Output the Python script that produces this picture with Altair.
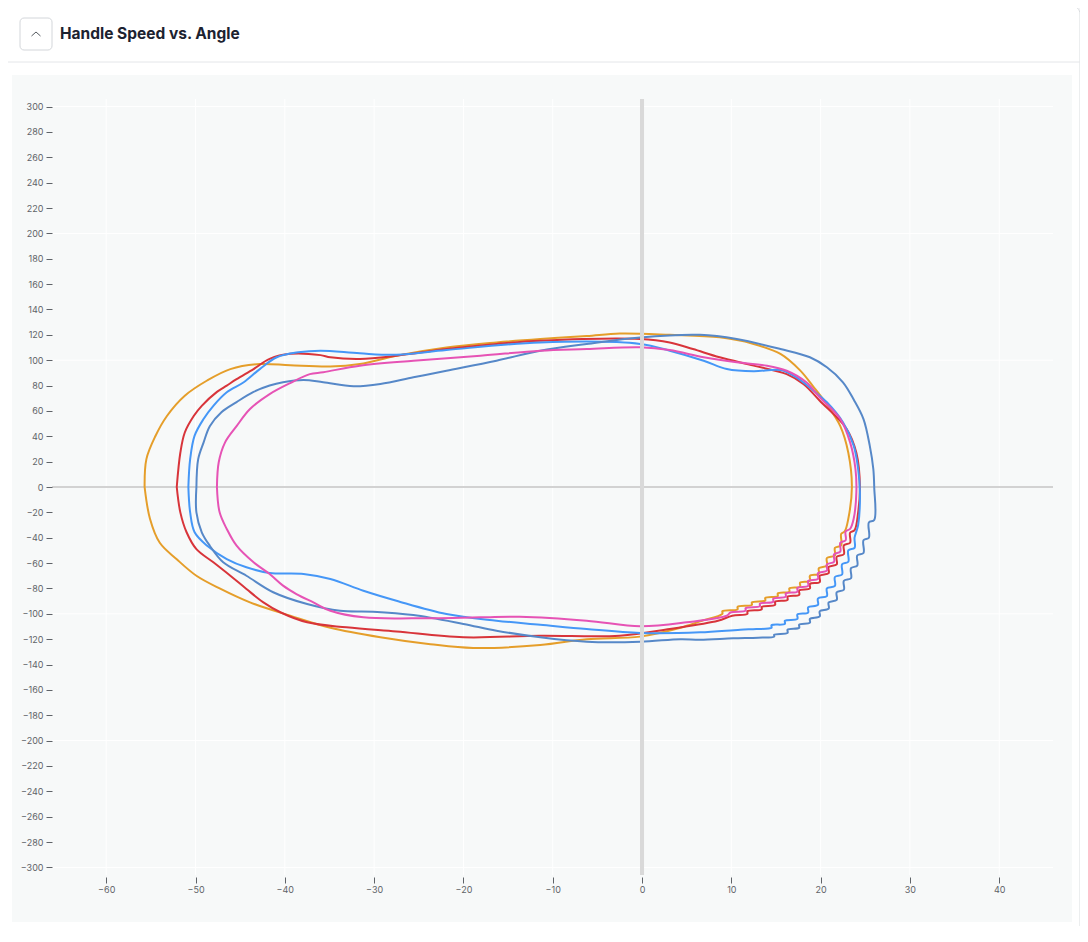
import altair as alt
import pandas as pd

# ---------------- data ----------------
ORANGE_X = [-55.7, -55.5, -54.5, -53.2, -51.2, -48.7, -46.1, -42.8, -39.4, -34.9, -31.6, -27.5, -21.9, -16.3,
            -11.4, -6.2, -2.5, 3.1, 8.7, 12.4, 15.5, 17.7, 19.2, 20.5, 22.2, 23.1, 23.5, 23.1, 22.7, 22.3,
            22.3, 21.6, 21.6, 20.7, 20.7, 19.8, 19.8, 18.8, 18.8, 17.7, 17.7, 16.5, 16.5, 15.2, 15.2, 13.8,
            13.8, 12.3, 12.3, 10.7, 10.7, 9.0, 9.0, 6.5, 4.3, -0.2, -6.2, -11.4, -18.9, -23.7, -29.3, -34.9,
            -39.4, -43.9, -47.3, -49.9, -52.1, -54.0, -55.1, -55.7]
ORANGE_Y = [0, 22, 40, 56, 72, 84, 93, 97, 96, 95, 97, 103.5, 110, 114,
            116.7, 119, 121, 120, 118, 113, 105, 92, 79, 67, 48, 27, 0, -25, -35, -37,
            -46, -48, -54, -56, -62, -64, -68.5, -70, -74, -75.5, -78.5, -80, -82.5, -84, -86, -87.5,
            -89.5, -91, -93, -94.5, -96.5, -98, -100, -106, -111, -118, -120, -124.6, -127, -124, -118.5, -111,
            -101.5, -91, -80, -70, -57, -44, -25, 0]

RED_X = [-52.1, -51.7, -51.2, -50.2, -49.3, -47.6, -46.5, -45.4, -43.5, -41.7, -39.4, -36.0, -34.9, -31.6,
         -27.5, -21.9, -16.3, -11.4, -0.2, 3.1, 5.7, 8.7, 12.5, 16.2, 18.1, 19.9, 22.9, 24.0, 24.4, 24.2,
         23.8, 23.3, 23.3, 22.6, 22.6, 21.8, 21.8, 20.9, 20.9, 19.9, 19.9, 18.8, 18.8, 17.6, 17.6, 16.3,
         16.3, 14.9, 14.9, 13.4, 13.4, 11.8, 11.8, 10.1, 8.5, 3.1, -2.5, -11.4, -20.0, -27.5, -33.1, -37.5,
         -40.5, -42.4, -44.3, -46.1, -48.0, -49.9, -51.0, -51.7, -52.1]
RED_Y = [0, 27, 43, 56, 64, 75, 80, 85, 93, 101, 105, 104, 102.3, 101,
         103.5, 108.8, 112.8, 115.4, 116.7, 114, 108.8, 102.3, 95.7, 89, 81, 68, 46, 27, 0, -20,
         -34, -36, -44, -46, -53, -55, -61, -63, -68, -70, -75, -76.5, -80, -81.5, -85, -86.5,
         -89, -90.5, -93, -94.5, -96.5, -98, -100, -101.5, -105.5, -112, -117.3, -117.3, -118.5, -114, -110.7, -106.7,
         -98.8, -91, -80.4, -70, -59.4, -49, -35.7, -20, 0]

LIGHTBLUE_X = [-50.8, -50.6, -50.1, -49.1, -48.0, -46.5, -44.6, -42.8, -40.9, -38.5, -36.0, -31.6, -27.5,
               -21.9, -11.4, -0.2, 3.1, 6.9, 9.5, 12.5, 15.5, 17.3, 19.2, 20.7, 22.5, 23.7, 24.2, 24.4,
               24.2, 23.8, 23.8, 23.1, 23.1, 22.4, 22.4, 21.6, 21.6, 20.7, 20.7, 19.7, 19.7, 18.6, 18.6,
               17.4, 17.4, 16.0, 16.0, 14.5, 14.5, 12.8, 11.0, 6.5, -0.2, -6.2, -11.4, -16.3, -21.9,
               -27.5, -31.2, -34.9, -37.9, -41.7, -44.3, -46.5, -48.7, -50.1, -50.6, -50.8]
LIGHTBLUE_Y = [0, 22, 40.5, 53.6, 64, 74.7, 82.6, 93, 102.3, 106.2, 107.5, 105.4, 104.3,
               108, 114, 112.8, 107.5, 99.6, 93, 91.2, 92.3, 86.5, 76, 66.8, 51, 32.6, 14.2, -4.2,
               -30, -40, -48, -50, -59, -61, -69, -71, -78, -80, -86, -88, -93, -95, -99,
               -100.5, -104, -105.5, -108, -109, -111, -112, -112.5, -114.6, -115.1, -112, -108.6, -105.4, -100.2,
               -89.7, -81.8, -72.6, -68.6, -67.8, -63.3, -56.8, -46.3, -35.7, -20, 0]

STEEL_X = [-49.9, -49.7, -49.1, -48.4, -47.1, -45.4, -43.5, -41.7, -40.2, -37.9, -35.7, -32.3, -29.3, -25.6,
           -21.9, -16.3, -11.4, -6.2, -0.2, 6.5, 10.6, 15.5, 18.8, 20.7, 22.5, 23.7, 24.8, 25.5, 25.9, 26.0,
           26.0, 25.4, 25.4, 24.8, 24.8, 24.1, 24.1, 23.4, 23.4, 22.6, 22.6, 21.8, 21.8, 20.9, 20.9, 19.9,
           19.9, 18.8, 18.8, 17.6, 17.6, 16.3, 16.3, 14.8, 14.8, 13.0, 10.2, 6.5, 4.3, -0.2, -6.2, -11.4,
           -16.3, -20.0, -25.6, -30.1, -33.8, -37.5, -41.3, -44.3, -46.9, -48.4, -49.3, -49.9, -49.9]
STEEL_Y = [0, 22, 35, 48, 59, 67, 75, 80, 82.6, 84.4, 82.6, 79.4, 81.2, 86.5,
           91.7, 99.6, 107.5, 112.8, 118, 120, 116.7, 108.8, 102.3, 94.4, 82.6, 69, 53.6, 32.6, 14.2, 0,
           -26, -28, -40, -42, -52, -54, -62, -64, -72, -74, -81, -83, -89, -91, -96, -98,
           -102, -104, -107, -108.5, -111, -112.5, -115, -116.5, -118, -118.8, -119.3, -120.4, -120, -122, -122, -118.5,
           -113.3, -108, -101, -98.3, -97.6, -92.3, -83, -70, -59.4, -46.3, -35.7, -20, 0]

PINK_X = [-47.6, -47.4, -46.7, -45.4, -43.9, -41.7, -39.4, -37.2, -35.7, -31.6, -25.6, -18.1, -11.4, -6.2,
          -0.2, 3.1, 6.9, 10.6, 14.0, 16.2, 18.4, 19.9, 22.2, 23.3, 23.9, 24.0, 23.7, 23.3, 22.8, 22.8,
          22.2, 22.2, 21.5, 21.5, 20.7, 20.7, 19.7, 19.7, 18.6, 18.6, 17.4, 17.4, 16.1, 16.1, 14.7, 14.7,
          13.2, 13.2, 11.6, 11.6, 9.9, 9.5, 5.0, -0.2, -6.2, -13.7, -18.1, -25.6, -31.2, -34.9, -36.8,
          -38.7, -40.2, -41.7, -43.5, -45.4, -46.5, -47.3, -47.6]
PINK_Y = [0, 19.5, 35, 48, 61.5, 73.3, 82, 89, 90.5, 95.7, 99.6, 103.5, 107.5, 108.8,
          110.2, 108, 102.3, 98.3, 95.7, 91.7, 82.6, 70.7, 53.6, 35.2, 14.2, -4.2, -25, -33, -35, -42,
          -44, -51, -53, -59, -61, -66, -68, -72.5, -74, -78, -79.5, -82.5, -84, -86.5, -88, -90.5,
          -92, -94, -95.5, -97.5, -99, -101.5, -106.7, -109.9, -105.4, -102.3, -102.8, -103.6, -102.8, -97.6, -91,
          -84.4, -77.8, -68.6, -59.4, -46.3, -33.1, -20, 0]

SERIES_NAMES = ["Swing 1", "Swing 2", "Swing 3", "Swing 4", "Swing 5"]
SERIES_COLORS = ["#E59E2A", "#D8343A", "#4597F7", "#5688C8", "#E653B5"]
SERIES_X = [ORANGE_X, RED_X, LIGHTBLUE_X, STEEL_X, PINK_X]
SERIES_Y = [ORANGE_Y, RED_Y, LIGHTBLUE_Y, STEEL_Y, PINK_Y]

X_TICKS = [-60, -50, -40, -30, -20, -10, 0, 10, 20, 30, 40]
Y_TICKS = list(range(-300, 301, 20))
Y_GRID = [-300, -200, -100, 100, 200, 300]
X_DOMAIN = [-66.07, 46.02]
Y_DOMAIN = [-306, 306]
TITLE = "Handle Speed vs. Angle"

rows = []
for name, xs_, ys_ in zip(SERIES_NAMES, SERIES_X, SERIES_Y):
    for i, (a, s) in enumerate(zip(xs_, ys_)):
        rows.append({"series": name, "i": i, "angle": a, "speed": s})
df = pd.DataFrame(rows)

one = pd.DataFrame({"k": [0]})
ygrid_df = pd.DataFrame({"speed": Y_GRID})
xgrid_df = pd.DataFrame({"angle": X_TICKS})
zero_df = pd.DataFrame({"angle": [0], "speed": [0]})

xscale = alt.Scale(domain=X_DOMAIN, nice=False, zero=False)
yscale = alt.Scale(domain=Y_DOMAIN, nice=False, zero=False)

LBL = "#5f6368"
xaxis = alt.Axis(values=X_TICKS, grid=False, domain=False, ticks=True, tickSize=6, tickColor=LBL,
                 tickWidth=1, offset=2, labelPadding=2, labelFontSize=9, labelColor=LBL,
                 labelFont="Inter", title=None, zindex=1, labelOverlap=False)
yaxis = alt.Axis(values=Y_TICKS, grid=False, domain=False, ticks=True, tickSize=6, tickColor=LBL,
                 tickWidth=1, labelPadding=3, labelFontSize=9, labelColor=LBL,
                 labelFont="Inter", title=None, zindex=1, labelOverlap=False)

# ---------------- decoration (card, header) ----------------
card = alt.Chart(one).mark_rect(fill="white", stroke="#d9dcdf", strokeWidth=1, cornerRadius=8).encode(
    x=alt.value(-48), x2=alt.value(1028), y=alt.value(-93), y2=alt.value(837))
divider = alt.Chart(one).mark_rule(color="#e4e6e9", strokeWidth=1).encode(
    x=alt.value(-48), x2=alt.value(1028), y=alt.value(-37))
inner = alt.Chart(one).mark_rect(fill="#f7f9f9").encode(
    x=alt.value(-40), x2=alt.value(1020), y=alt.value(-24), y2=alt.value(823))
button = alt.Chart(one).mark_rect(fill="white", stroke="#d3d6da", strokeWidth=1, cornerRadius=4).encode(
    x=alt.value(-32), x2=alt.value(0), y=alt.value(-81), y2=alt.value(-49))
chev1 = alt.Chart(one).mark_rule(color="#555a60", strokeWidth=1).encode(
    x=alt.value(-20.5), y=alt.value(-63), x2=alt.value(-16), y2=alt.value(-67))
chev2 = alt.Chart(one).mark_rule(color="#555a60", strokeWidth=1).encode(
    x=alt.value(-16), y=alt.value(-67), x2=alt.value(-11.5), y2=alt.value(-63))
title = alt.Chart(one).mark_text(text=TITLE, font="Inter", fontSize=15.5, fontWeight=700, align="left",
                                 baseline="middle", color="#1c2230").encode(
    x=alt.value(8), y=alt.value(-65))

# ---------------- plot ----------------
hgrid = alt.Chart(ygrid_df).mark_rule(color="#ffffff", strokeWidth=1).encode(
    y=alt.Y("speed:Q", scale=yscale, axis=yaxis))
vgrid = alt.Chart(xgrid_df).mark_rule(color="#ffffff", strokeWidth=1).encode(
    x=alt.X("angle:Q", scale=xscale, axis=xaxis))
zero_h = alt.Chart(zero_df).mark_rule(color="#d2d2d2", strokeWidth=2).encode(
    y=alt.Y("speed:Q", scale=yscale, axis=yaxis))
zero_v = alt.Chart(zero_df).mark_rule(color="#d9d9d9", strokeWidth=4).encode(
    x=alt.X("angle:Q", scale=xscale, axis=xaxis))

lines = alt.Chart(df).mark_line(strokeWidth=2, interpolate="catmull-rom").encode(
    x=alt.X("angle:Q", scale=xscale, axis=xaxis),
    y=alt.Y("speed:Q", scale=yscale, axis=yaxis),
    color=alt.Color("series:N", scale=alt.Scale(domain=SERIES_NAMES, range=SERIES_COLORS), legend=None),
    order=alt.Order("i:Q"),
)

chart = alt.layer(card, divider, inner, button, chev1, chev2, title,
                  hgrid, vgrid, zero_h, lines, zero_v).properties(
    width=1001, height=776,
    padding={"left": 44, "top": 91, "right": 27, "bottom": 51},
    autosize=alt.AutoSizeParams(type="none"),
).configure(background="#f4f5f6").configure_view(stroke=None)

chart.save("out.html", embed_options={"renderer": "svg", "actions": False})
